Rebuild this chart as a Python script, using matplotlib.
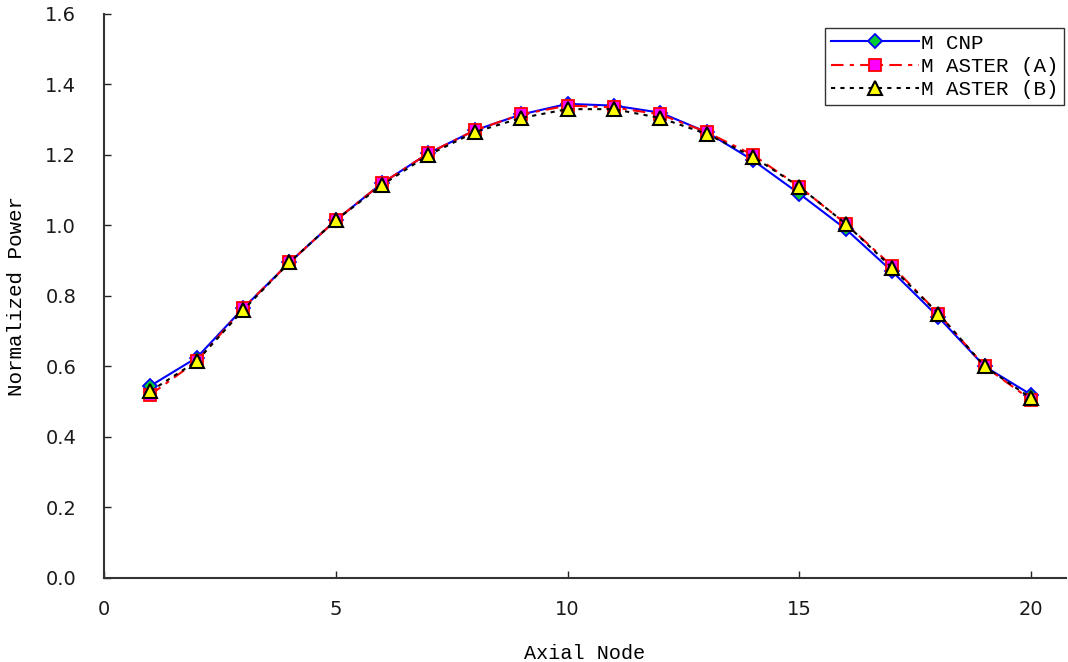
import matplotlib
matplotlib.use("Agg")
import matplotlib.pyplot as plt

# axial node number
node = list(range(1, 21))

# normalized power
mcnp = [0.545, 0.625, 0.765, 0.895, 1.015, 1.120, 1.205, 1.270, 1.315, 1.345,
        1.340, 1.320, 1.265, 1.185, 1.090, 0.990, 0.870, 0.740, 0.600, 0.520]
master_a = [0.520, 0.615, 0.765, 0.895, 1.015, 1.120, 1.205, 1.270, 1.315, 1.340,
            1.335, 1.315, 1.265, 1.200, 1.110, 1.005, 0.885, 0.750, 0.600, 0.505]
master_b = [0.530, 0.615, 0.760, 0.895, 1.015, 1.115, 1.200, 1.265, 1.305, 1.330,
            1.330, 1.305, 1.260, 1.195, 1.110, 1.005, 0.880, 0.750, 0.600, 0.510]

labels = ["M CNP", "M ASTER (A)", "M ASTER (B)"]

fig = plt.figure(figsize=(10.68, 6.62), dpi=100)
ax = fig.add_axes([0.0974, 0.1269, 0.9006, 0.852])

ax.plot(node, mcnp, color="#0000ff", lw=1.5, marker="D", ms=7,
        mfc="#00cc33", mec="#0000ff", mew=1.3, label=labels[0], zorder=3)
ax.plot(node, master_a, color="#ff0000", lw=1.5, ls=(0, (6, 3, 2, 3)), marker="s", ms=8,
        mfc="#ff00ff", mec="#ff0000", mew=1.3, label=labels[1], zorder=4)
ax.plot(node, master_b, color="black", lw=1.5, ls=(0, (2, 2.5)), marker="^", ms=10,
        mfc="#ffff00", mec="black", mew=1.5, label=labels[2], zorder=5)

ax.set_xlim(0, 20.75)
ax.set_ylim(0, 1.6)
ax.set_xticks([0, 5, 10, 15, 20])
ax.set_yticks([0.0, 0.2, 0.4, 0.6, 0.8, 1.0, 1.2, 1.4, 1.6])
ax.set_yticklabels(["0.0", "0.2", "0.4", "0.6", "0.8", "1.0", "1.2", "1.4", "1.6"])
ax.tick_params(direction="in", length=5, width=1, labelsize=14, colors="#222222",
               labelcolor="#1a1a1a")
ax.tick_params(axis="x", pad=16)
ax.tick_params(axis="y", pad=20)

for s in ["top", "right"]:
    ax.spines[s].set_visible(False)
for s in ["left", "bottom"]:
    ax.spines[s].set_color("#333333")
    ax.spines[s].set_linewidth(1.5)

ax.set_xlabel("Axial Node", family="Liberation Mono", fontsize=14.5, labelpad=18)
ax.set_ylabel("Normalized Power", family="Liberation Mono", fontsize=15, labelpad=14)

leg = ax.legend(loc="upper right", bbox_to_anchor=(0.9985, 0.976), fancybox=False,
                edgecolor="#333333", framealpha=1, borderaxespad=0,
                prop={"family": "Liberation Mono", "size": 15},
                handlelength=4.2, handletextpad=0.1, labelspacing=0.2,
                borderpad=0.3)
leg.get_frame().set_linewidth(1.0)

fig.savefig("out.png", dpi=100)
